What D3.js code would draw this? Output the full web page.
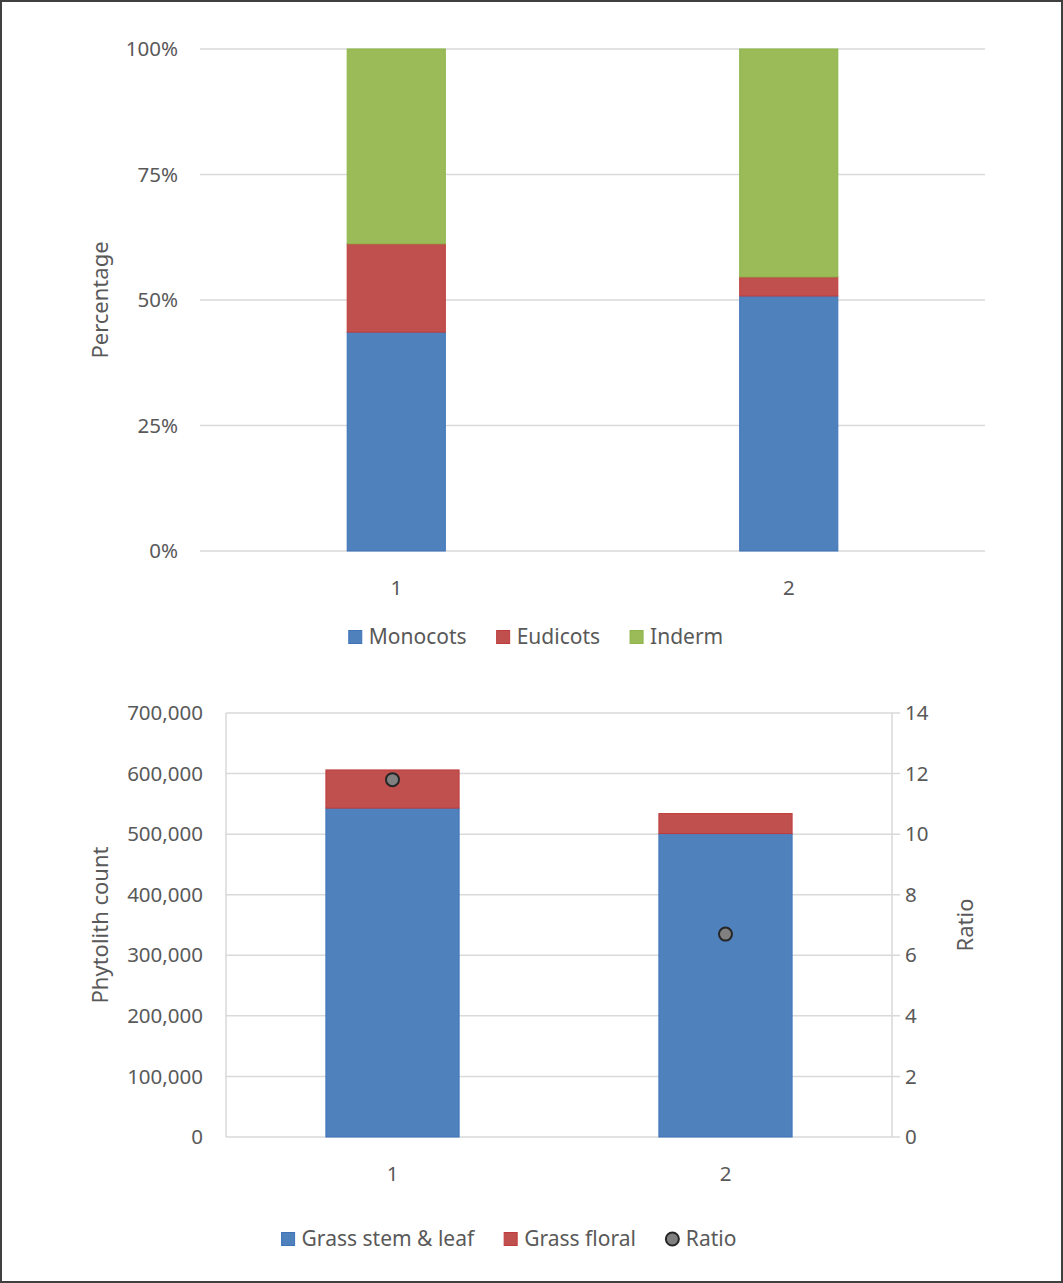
<!DOCTYPE html>
<html>
<head>
<meta charset="utf-8">
<script src="https://cdn.jsdelivr.net/npm/d3@7"></script>
<style>
  body { margin: 0; background: #fff; }
  text { font-family: "Noto Sans", "Open Sans", sans-serif; fill: #595959; }
</style>
</head>
<body>
<div class="chart"></div>
<script>
// top chart data (percent of total)
var samples = ["1", "2"];
var monocots = [43.6, 50.8];
var eudicots = [17.6, 3.8];
var inderm = [38.8, 45.4];
var pctTicks = [0, 25, 50, 75, 100];

// bottom chart data
var grassStemLeaf = [543000, 501000];
var grassFloral = [63000, 33000];
var ratio = [11.8, 6.7];
var countTicks = [0, 100000, 200000, 300000, 400000, 500000, 600000, 700000];
var ratioTicks = [0, 2, 4, 6, 8, 10, 12, 14];

var width = 1063;
var height = 1283;
var tickSize = "20.5px";
var titleSize = "22px";
var legendSize = "21px";

var colors = {
    blue: "#4f81bd", blueLine: "#3e73b9",
    red: "#c0504d", redLine: "#c03c3c",
    green: "#9bbb59", greenLine: "#8db548"
};

var svg = d3.select(".chart").append("svg")
    .attr("width", width)
    .attr("height", height);

svg.append("rect")
    .attr("x", 1).attr("y", 1)
    .attr("width", width - 2).attr("height", height - 2)
    .attr("fill", "#fff")
    .attr("stroke", "#404040")
    .attr("stroke-width", 2);

// ---------- top chart ----------
var x1 = d3.scaleBand().domain(samples).range([200, 985])
    .paddingInner(0.75).paddingOuter(0.375);
var y1 = d3.scaleLinear().domain([0, 100]).range([551, 49]);

var topG = svg.append("g");

topG.selectAll(".grid").data(pctTicks).enter().append("line")
    .attr("x1", 200).attr("x2", 985)
    .attr("y1", function(d) { return y1(d); })
    .attr("y2", function(d) { return y1(d); })
    .attr("stroke", "#d9d9d9").attr("stroke-width", 1.5);

topG.selectAll(".ytick").data(pctTicks).enter().append("text")
    .attr("x", 178).attr("y", function(d) { return y1(d); })
    .attr("dy", "0.35em").attr("text-anchor", "end")
    .style("font-size", tickSize)
    .text(function(d) { return d + "%"; });

var stack1 = d3.stack().keys(["mono", "eudi", "inderm"])(samples.map(function(s, i) {
    return { s: s, mono: monocots[i], eudi: eudicots[i], inderm: inderm[i] };
}));
var fills1 = [[colors.blue, colors.blueLine], [colors.red, colors.redLine], [colors.green, colors.greenLine]];

stack1.forEach(function(layer, k) {
    topG.selectAll(".l" + k).data(layer).enter().append("rect")
        .attr("x", function(d) { return x1(d.data.s); })
        .attr("width", x1.bandwidth())
        .attr("y", function(d) { return y1(d[1]); })
        .attr("height", function(d) { return y1(d[0]) - y1(d[1]); })
        .attr("fill", fills1[k][0])
        .attr("stroke", fills1[k][1]).attr("stroke-width", 1);
});

topG.selectAll(".xlab").data(samples).enter().append("text")
    .attr("x", function(d) { return x1(d) + x1.bandwidth() / 2; })
    .attr("y", 588).attr("dy", "0.35em").attr("text-anchor", "middle")
    .style("font-size", tickSize)
    .text(function(d) { return d; });

topG.append("text")
    .attr("transform", "translate(100,300) rotate(-90)")
    .attr("dy", "0.35em").attr("text-anchor", "middle")
    .style("font-size", titleSize)
    .text("Percentage");

// ---------- bottom chart ----------
var x2 = d3.scaleBand().domain(samples).range([226, 892])
    .paddingInner(0.6).paddingOuter(0.3);
var y2 = d3.scaleLinear().domain([0, 700000]).range([1137, 713]);
var yr = d3.scaleLinear().domain([0, 14]).range([1137, 713]);

var bot = svg.append("g");

bot.selectAll(".grid").data(countTicks).enter().append("line")
    .attr("x1", 226).attr("x2", 900)
    .attr("y1", function(d) { return y2(d); })
    .attr("y2", function(d) { return y2(d); })
    .attr("stroke", "#d9d9d9").attr("stroke-width", 1.5);

bot.append("line").attr("x1", 226).attr("x2", 226).attr("y1", 713).attr("y2", 1137)
    .attr("stroke", "#d9d9d9").attr("stroke-width", 1.5);
bot.append("line").attr("x1", 892).attr("x2", 892).attr("y1", 713).attr("y2", 1137)
    .attr("stroke", "#d9d9d9").attr("stroke-width", 1.5);

bot.selectAll(".ytick").data(countTicks).enter().append("text")
    .attr("x", 203).attr("y", function(d) { return y2(d); })
    .attr("dy", "0.35em").attr("text-anchor", "end")
    .style("font-size", tickSize)
    .text(function(d) { return d3.format(",")(d); });

bot.selectAll(".rtick").data(ratioTicks).enter().append("text")
    .attr("x", 905).attr("y", function(d) { return yr(d); })
    .attr("dy", "0.35em").attr("text-anchor", "start")
    .style("font-size", tickSize)
    .text(function(d) { return d; });

var stack2 = d3.stack().keys(["stem", "floral"])(samples.map(function(s, i) {
    return { s: s, stem: grassStemLeaf[i], floral: grassFloral[i] };
}));
var fills2 = [[colors.blue, colors.blueLine], [colors.red, colors.redLine]];

stack2.forEach(function(layer, k) {
    bot.selectAll(".b" + k).data(layer).enter().append("rect")
        .attr("x", function(d) { return x2(d.data.s); })
        .attr("width", x2.bandwidth())
        .attr("y", function(d) { return y2(d[1]); })
        .attr("height", function(d) { return y2(d[0]) - y2(d[1]); })
        .attr("fill", fills2[k][0])
        .attr("stroke", fills2[k][1]).attr("stroke-width", 1);
});

bot.selectAll(".dot").data(ratio).enter().append("circle")
    .attr("cx", function(d, i) { return x2(samples[i]) + x2.bandwidth() / 2; })
    .attr("cy", function(d) { return yr(d); })
    .attr("r", 6.5)
    .attr("fill", "#808080").attr("stroke", "#262626").attr("stroke-width", 2);

bot.selectAll(".xlab").data(samples).enter().append("text")
    .attr("x", function(d) { return x2(d) + x2.bandwidth() / 2; })
    .attr("y", 1174).attr("dy", "0.35em").attr("text-anchor", "middle")
    .style("font-size", tickSize)
    .text(function(d) { return d; });

bot.append("text")
    .attr("transform", "translate(100,925) rotate(-90)")
    .attr("dy", "0.35em").attr("text-anchor", "middle")
    .style("font-size", titleSize)
    .text("Phytolith count");

bot.append("text")
    .attr("transform", "translate(965,925) rotate(-90)")
    .attr("dy", "0.35em").attr("text-anchor", "middle")
    .style("font-size", titleSize)
    .text("Ratio");

// ---------- legends ----------
function legend(items, cx, cy) {
    var g = svg.append("g");
    var xpos = 0;
    items.forEach(function(it) {
        var item = g.append("g").attr("transform", "translate(" + xpos + ",0)");
        if (it.shape === "circle") {
            item.append("circle").attr("cx", 6.5).attr("cy", cy).attr("r", 6.5)
                .attr("fill", it.fill).attr("stroke", it.stroke).attr("stroke-width", 2);
        } else {
            item.append("rect").attr("x", 0).attr("y", cy - 6.5)
                .attr("width", 13).attr("height", 13)
                .attr("fill", it.fill).attr("stroke", it.stroke);
        }
        var t = item.append("text").attr("x", 20).attr("y", cy).attr("dy", "0.35em")
            .style("font-size", legendSize).text(it.label);
        xpos += 20 + t.node().getComputedTextLength() + 30;
    });
    var total = xpos - 30;
    g.attr("transform", "translate(" + (cx - total / 2) + ",0)");
}

legend([
    { label: "Monocots", fill: colors.blue, stroke: colors.blueLine },
    { label: "Eudicots", fill: colors.red, stroke: colors.redLine },
    { label: "Inderm", fill: colors.green, stroke: colors.greenLine }
], 536, 637);

legend([
    { label: "Grass stem & leaf", fill: colors.blue, stroke: colors.blueLine },
    { label: "Grass floral", fill: colors.red, stroke: colors.redLine },
    { label: "Ratio", fill: "#808080", stroke: "#262626", shape: "circle" }
], 509, 1239);
</script>
</body>
</html>
